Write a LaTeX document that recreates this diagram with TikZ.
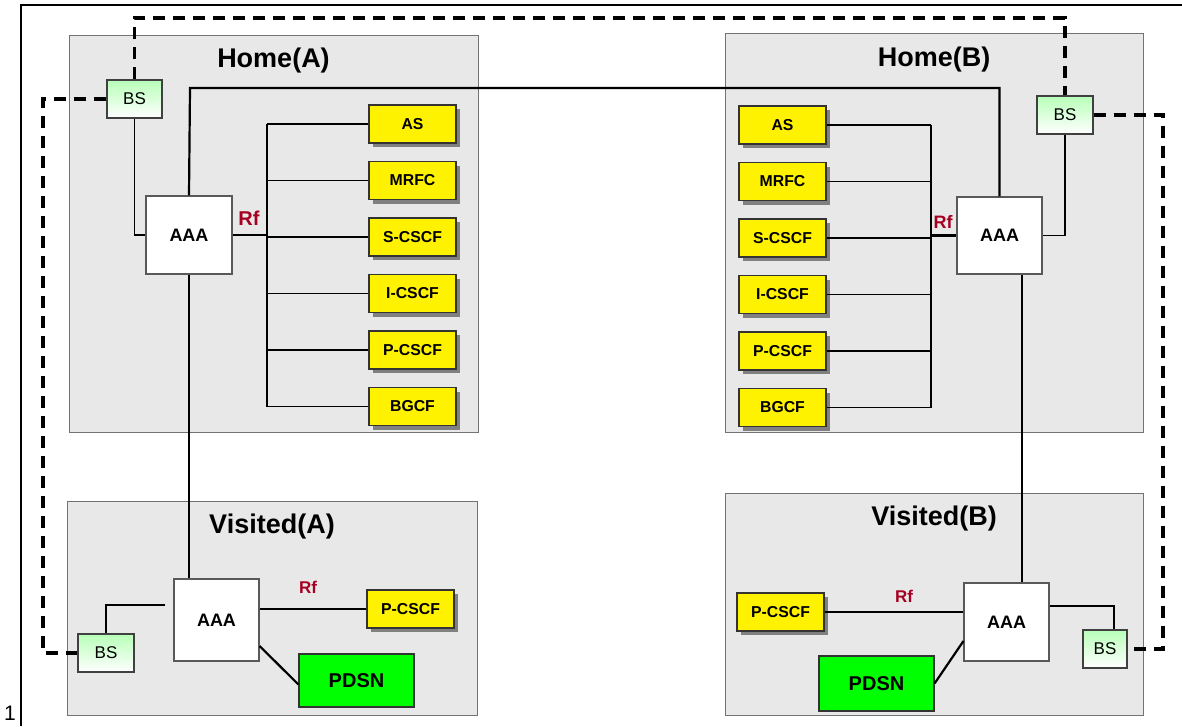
\documentclass[tikz,border=0pt]{standalone}
\usepackage{fontspec}
\setmainfont{Liberation Sans}
\usepackage{xcolor}
\usepackage{tikz}
\usetikzlibrary{positioning, calc, shadows}
\definecolor{areagray}{HTML}{E8E8E8}
\definecolor{rfred}{HTML}{A50021}
\definecolor{bsgreen}{HTML}{B8FFB8}

\begin{document}
\begin{tikzpicture}[x=1pt, y=-1pt,
  area/.style={rectangle, draw=black!55, fill=areagray, line width=1pt, inner sep=0},
  title/.style={font=\fontsize{27}{30}\selectfont\bfseries},
  aaa/.style={rectangle, draw=black!65, fill=white, line width=1.1pt, font=\fontsize{18}{20}\selectfont\bfseries, inner sep=0},
  func/.style={rectangle, draw=black!80, fill=yellow, line width=1.1pt, minimum width=87pt, minimum height=38pt, inner sep=0,
    font=\fontsize{15.8}{18}\selectfont\bfseries, drop shadow={shadow xshift=4pt, shadow yshift=-4pt, fill=black!50, opacity=1}},
  bs/.style={rectangle, draw=black!75, top color=bsgreen, bottom color=white, line width=1.1pt, minimum height=38pt, inner sep=0,
    font=\fontsize{17}{19}\selectfont},
  pdsn/.style={rectangle, draw=black!80, fill=green, line width=1.1pt, inner sep=0, font=\fontsize{20}{23}\selectfont\bfseries},
  rf/.style={text=rfred, font=\bfseries},
  conn/.style={line width=1.5pt},
  trunk/.style={line width=2.2pt},
  dashline/.style={line width=3.2pt, dash pattern=on 12pt off 8pt}
]
  \useasboundingbox (0,0) rectangle (1182,726);

  % frame
  \draw[line width=2.6pt] (21,726) -- (21,5) -- (1182,5);
  \node (pagenum) at (10,713) {\fontsize{21}{24}\selectfont 1};

  % domains
  \node[area, minimum width=409pt, minimum height=397pt] (homeA) at (273.5,233.5) {};
  \node[title] at ([yshift=-26pt]homeA.north) {Home(A)};
  \node[area, minimum width=418pt, minimum height=399pt] (homeB) at (934,232.5) {};
  \node[title] at ([yshift=-27pt]homeB.north) {Home(B)};
  \node[area, minimum width=410pt, minimum height=214pt] (visA) at (272,608) {};
  \node[title] at ([yshift=-26pt]visA.north) {Visited(A)};
  \node[area, minimum width=418pt, minimum height=222pt] (visB) at (934,604) {};
  \node[title] at ([yshift=-26pt]visB.north) {Visited(B)};

  % Home(A)
  \node[bs, minimum width=55pt] (bsA) at (134.5,99) {BS};
  \node[aaa, minimum width=86pt, minimum height=78pt] (aaaA) at (189,235) {AAA};
  \node[func] (asA) at (412.5,124) {AS};
  \node[func, below=17.4pt of asA] (mrfcA) {MRFC};
  \node[func, below=17.4pt of mrfcA] (scscfA) {S-CSCF};
  \node[func, below=17.4pt of scscfA] (icscfA) {I-CSCF};
  \node[func, below=17.4pt of icscfA] (pcscfA) {P-CSCF};
  \node[func, below=17.4pt of pcscfA] (bgcfA) {BGCF};
  \coordinate (busA) at (267,0);
  \draw[conn] (asA.west -| busA) -- (bgcfA.west -| busA);
  \foreach \f in {asA, mrfcA, scscfA, icscfA, pcscfA, bgcfA}
    \draw[conn] (\f.west) -- (\f.west -| busA);
  \draw[trunk] (aaaA.east) -- (aaaA.east -| busA);
  \node[rf, font=\fontsize{20}{22}\selectfont\bfseries] at (249,218) {Rf};
  \draw[conn] (bsA.south) |- (aaaA.west);

  % Home(B)
  \node[bs, minimum width=56pt] (bsB) at (1065,115) {BS};
  \node[aaa, minimum width=85pt, minimum height=77pt] (aaaB) at (999.5,235.5) {AAA};
  \node[func] (asB) at (782.5,125) {AS};
  \node[func, below=17.4pt of asB] (mrfcB) {MRFC};
  \node[func, below=17.4pt of mrfcB] (scscfB) {S-CSCF};
  \node[func, below=17.4pt of scscfB] (icscfB) {I-CSCF};
  \node[func, below=17.4pt of icscfB] (pcscfB) {P-CSCF};
  \node[func, below=17.4pt of pcscfB] (bgcfB) {BGCF};
  \coordinate (busB) at (931,0);
  \draw[conn] (asB.east -| busB) -- (bgcfB.east -| busB);
  \foreach \f in {asB, mrfcB, scscfB, icscfB, pcscfB, bgcfB}
    \draw[conn] (\f.east) -- (\f.east -| busB);
  \draw[trunk] (aaaB.west) -- (aaaB.west -| busB);
  \node[rf, font=\fontsize{18}{20}\selectfont\bfseries] at (943,222) {Rf};
  \draw[conn] (bsB.south) |- (aaaB.east);

  % Visited(A)
  \node[aaa, minimum width=85pt, minimum height=82pt] (aaaVA) at (216.5,620) {AAA};
  \node[bs, minimum width=56pt] (bsVA) at (106,653) {BS};
  \node[func] (pcscfVA) at (410.5,609) {P-CSCF};
  \node[pdsn, minimum width=115pt, minimum height=53pt] (pdsnVA) at (356.5,680.5) {PDSN};
  \draw[conn] (bsVA.north) |- ([shift={(-8,-15)}]aaaVA.west);
  \draw[conn] (aaaVA.east |- pcscfVA.west) -- (pcscfVA.west);
  \node[rf, font=\fontsize{17}{19}\selectfont\bfseries] at (308,587) {Rf};
  \draw[trunk] ([shift={(0,26)}]aaaVA.east) -- ([shift={(0,4)}]pdsnVA.west);

  % Visited(B)
  \node[aaa, minimum width=85pt, minimum height=78pt] (aaaVB) at (1006.5,622) {AAA};
  \node[bs, minimum width=44pt] (bsVB) at (1105,649) {BS};
  \node[func] (pcscfVB) at (780.5,612) {P-CSCF};
  \node[pdsn, minimum width=115pt, minimum height=55pt] (pdsnVB) at (876.5,683.5) {PDSN};
  \draw[conn] (pcscfVB.east) -- (pcscfVB.east -| aaaVB.west);
  \node[rf, font=\fontsize{17}{19}\selectfont\bfseries] at (904,596) {Rf};
  \draw[trunk] (pdsnVB.east) -- ([shift={(0,19)}]aaaVB.west);
  \draw[conn] ([shift={(0,-16)}]aaaVB.east) -| ([xshift=9pt]bsVB.north);

  % AAA to AAA
  \coordinate (aaatop) at (190,88);
  \draw[trunk] (aaaA.north) -- (aaatop) -| (aaaB.north);
  \draw[trunk] (aaaA.south) -- (aaaA.south |- aaaVA.north);
  \draw[trunk] ([xshift=22.5pt]aaaB.south) -- ([xshift=22.5pt]aaaB.south |- aaaVB.north);

  % BS ring
  \coordinate (dtop) at (0,18);
  \coordinate (dleft) at (43,0);
  \coordinate (dright) at (1163,0);
  \draw[dashline] (bsA.north) -- (bsA.north |- dtop) -| (bsB.north);
  \draw[dashline] (bsA.west) -- (bsA.west -| dleft) |- (bsVA.west);
  \draw[dashline] (bsB.east) -- (bsB.east -| dright) |- (bsVB.east);
\end{tikzpicture}
\end{document}
